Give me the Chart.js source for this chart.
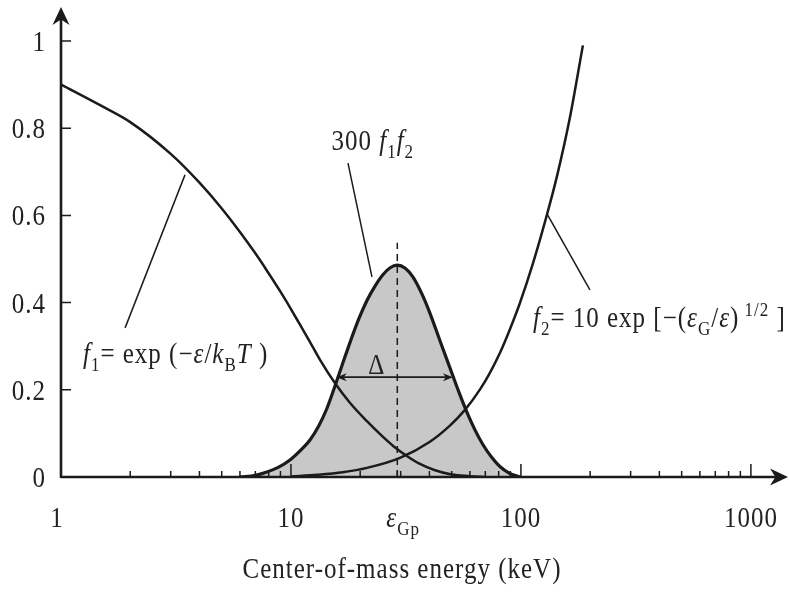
<!DOCTYPE html>
<html>
<head>
<meta charset="utf-8">
<script src="https://cdn.jsdelivr.net/npm/chart.js@4.4.0/dist/chart.umd.min.js"></script>
<style>
html, body { margin: 0; padding: 0; background: #fff; }
#wrap { width: 789px; height: 592px; }
</style>
</head>
<body>
<div id="wrap"><canvas id="chart"></canvas></div>
<script>
// ---------- values ----------
const f1Energy = [1, 1.5, 2, 3, 4, 5, 6, 7, 7.8, 9, 10, 10.9, 12, 13.4, 15.5, 18, 21.4, 25, 28, 31.9, 36, 42, 50, 60, 70];
const f1Values = [0.9, 0.851, 0.814, 0.741, 0.675, 0.616, 0.562, 0.513, 0.476, 0.425, 0.385, 0.351, 0.313, 0.268, 0.216, 0.171, 0.128, 0.093, 0.07, 0.048, 0.031, 0.016, 0.0055, 0.002, 0];

const f2Energy = [10, 13, 16.8, 21.4, 29.8, 40.2, 49.1, 57.1, 66.4, 73.3, 81.1, 89.6, 99, 112.8, 127.2, 143.5, 163.4, 186];
const f2Values = [0.001, 0.005, 0.011, 0.021, 0.044, 0.081, 0.118, 0.154, 0.201, 0.239, 0.285, 0.339, 0.399, 0.49, 0.585, 0.69, 0.825, 0.99];

const peakEnergy = [6, 7, 7.8, 8.8, 9.9, 11, 12.1, 13.2, 14.3, 15.5, 16.7, 18.1, 19.7, 21.4, 23.2, 25.1, 27, 29, 31.4, 33.9, 37.1, 40.2, 44.5, 49, 53.9, 58.4, 63.1, 68.4, 74.9, 81, 88.8, 99];
const peakValues = [0, 0.004, 0.011, 0.022, 0.039, 0.061, 0.085, 0.117, 0.156, 0.207, 0.257, 0.31, 0.362, 0.405, 0.438, 0.464, 0.48, 0.486, 0.479, 0.459, 0.42, 0.376, 0.312, 0.252, 0.193, 0.147, 0.108, 0.074, 0.044, 0.024, 0.009, 0];

const xTickValues = [1, 10, 100, 1000];
const xTickLabels = ['1', '10', '100', '1000'];
const yTickValues = [0, 0.2, 0.4, 0.6, 0.8, 1];
const yTickLabels = ['0', '0.2', '0.4', '0.6', '0.8', '1'];

const gamowPeak = 29;          // ε_Gp
const deltaRange = [15.8, 50.6];
const deltaLevel = 0.229;
const xTitle = 'Center-of-mass energy (keV)';

const ink = '#1b1b1b';
const FONT = '"Liberation Serif", "DejaVu Serif", serif';
const SIZE = 25;
const STRETCH = 1.15;   // the scan is a bit taller than wide

// ---------- text helpers ----------
function fontFor(style, size) {
    const small = style === 'sub' || style === 'sup' || style === 'isub';
    const italic = style === 'i' || style === 'isub';
    return (italic ? 'italic ' : '') + Math.round(small ? size * 0.68 : size) + 'px ' + FONT;
}

function richWidth(c, parts, size) {
    let w = 0;
    parts.forEach(([t, s]) => {
        c.font = fontFor(s, size);
        w += c.measureText(t).width;
    });
    return w;
}

function drawRich(c, x, y, parts, size, align) {
    c.save();
    c.letterSpacing = '1px';
    const w = richWidth(c, parts, size);
    let cx = align === 'center' ? -w / 2 : align === 'right' ? -w : 0;
    c.translate(x, y);
    c.scale(1, STRETCH);
    c.textBaseline = 'alphabetic';
    c.textAlign = 'left';
    c.fillStyle = '#222';
    parts.forEach(([t, s]) => {
        c.font = fontFor(s, size);
        let dy = 0;
        if (s === 'sub' || s === 'isub') dy = size * 0.28;
        if (s === 'sup') dy = -size * 0.38;
        c.fillText(t, cx, dy);
        cx += c.measureText(t).width;
    });
    c.restore();
}

// ---------- annotations (anchored in data units) ----------
const notes = [
    {
        at: [15, 0.75],
        parts: [['300 ', 'n'], ['f', 'i'], ['1', 'sub'], ['f', 'i'], ['2', 'sub']],
        line: [[17.7, 0.72], [22.5, 0.459]]
    },
    {
        at: [1.246, 0.261],
        parts: [['f', 'i'], ['1', 'sub'], ['= exp (\u2212', 'n'], ['\u03b5', 'i'], ['/', 'n'], ['k', 'i'], ['B', 'sub'], ['T', 'i'], [' )', 'n']],
        line: [[3.46, 0.693], [1.9, 0.342]]
    },
    {
        at: [112.8, 0.344],
        parts: [['f', 'i'], ['2', 'sub'], ['= 10 exp [\u2212(', 'n'], ['\u03b5', 'i'], ['G', 'sub'], ['/', 'n'], ['\u03b5', 'i'], [')', 'n'], [' 1/2', 'sup'], [' ]', 'n']],
        line: [[130.6, 0.601], [199.5, 0.429]]
    }
];

function arrowHead(c, x, y, dx, dy, len, half) {
    const nx = -dy, ny = dx;
    c.beginPath();
    c.moveTo(x, y);
    c.lineTo(x - dx * len + nx * half, y - dy * len + ny * half);
    c.lineTo(x - dx * len * 0.7, y - dy * len * 0.7);
    c.lineTo(x - dx * len - nx * half, y - dy * len - ny * half);
    c.closePath();
    c.fill();
}

const figureDecor = {
    id: 'figureDecor',
    afterDatasetsDraw(chart) {
        const c = chart.ctx;
        const { left, right, top, bottom } = chart.chartArea;
        const xs = chart.scales.x, ys = chart.scales.y;
        const X = v => xs.getPixelForValue(v);
        const Y = v => ys.getPixelForValue(v);

        c.save();
        c.strokeStyle = ink;
        c.fillStyle = ink;

        // dashed line at the Gamow peak
        c.lineWidth = 1.5;
        c.setLineDash([7, 5]);
        c.beginPath();
        c.moveTo(X(gamowPeak), Y(0));
        c.lineTo(X(gamowPeak), Y(0.537));
        c.stroke();
        c.setLineDash([]);

        // width Δ
        const dl = X(deltaRange[0]), dr = X(deltaRange[1]), dy = Y(deltaLevel);
        c.lineWidth = 1.6;
        c.beginPath();
        c.moveTo(dl + 4, dy);
        c.lineTo(dr - 4, dy);
        c.stroke();
        arrowHead(c, dl, dy, -1, 0, 10, 4);
        arrowHead(c, dr, dy, 1, 0, 10, 4);
        drawRich(c, X(23.6), Y(0.26) + 10, [['\u0394', 'n']], SIZE, 'center');

        // axes with arrows
        c.lineWidth = 2.6;
        c.beginPath();
        c.moveTo(left, bottom + 1);
        c.lineTo(left, top + 12);
        c.moveTo(left, bottom);
        c.lineTo(right - 12, bottom);
        c.stroke();
        arrowHead(c, left, top, 0, -1, 18, 8.5);
        arrowHead(c, right, bottom, 1, 0, 18, 8.5);

        // x ticks, pointing into the plot
        c.lineWidth = 1.5;
        c.beginPath();
        for (let d = 1; d <= 1000; d *= 10) {
            const limit = d === 1000 ? 1 : 9;
            for (let k = 1; k <= limit; k++) {
                const px = X(d * k);
                if (px <= left + 1) continue;
                const len = k === 1 ? 13 : 6;
                c.moveTo(px, bottom);
                c.lineTo(px, bottom - len);
            }
        }
        c.moveTo(X(gamowPeak), bottom);
        c.lineTo(X(gamowPeak), bottom - 6);
        yTickValues.forEach(v => {
            if (v === 0) return;
            c.moveTo(left, Y(v));
            c.lineTo(left + 10, Y(v));
        });
        c.stroke();

        // tick labels
        xTickValues.forEach((v, i) => {
            const shift = i === 0 ? -4 : 0;
            drawRich(c, X(v) + shift, 527, [[xTickLabels[i], 'n']], SIZE, 'center');
        });
        drawRich(c, X(gamowPeak) - 11, 527, [['\u03b5', 'i'], ['Gp', 'sub']], SIZE, 'left');
        yTickValues.forEach((v, i) => {
            drawRich(c, 46, Y(v) + 10, [[yTickLabels[i], 'n']], SIZE, 'right');
        });
        drawRich(c, 402, 578, [[xTitle, 'n']], SIZE, 'center');

        // curve labels with leader lines
        c.lineWidth = 1.5;
        notes.forEach(n => {
            c.beginPath();
            c.moveTo(X(n.line[0][0]), Y(n.line[0][1]));
            c.lineTo(X(n.line[1][0]), Y(n.line[1][1]));
            c.stroke();
            drawRich(c, X(n.at[0]), Y(n.at[1]), n.parts, SIZE, 'left');
        });

        c.restore();
    }
};

const toPoints = (xs, ys) => xs.map((x, i) => ({ x: x, y: ys[i] }));

new Chart(document.getElementById('chart'), {
    type: 'line',
    data: {
        datasets: [
            {
                label: 'f1',
                data: toPoints(f1Energy, f1Values),
                borderColor: ink,
                borderWidth: 2.5,
                pointRadius: 0,
                cubicInterpolationMode: 'monotone',
                fill: false
            },
            {
                label: 'f2',
                data: toPoints(f2Energy, f2Values),
                borderColor: ink,
                borderWidth: 2.5,
                pointRadius: 0,
                cubicInterpolationMode: 'monotone',
                fill: false
            },
            {
                label: '300 f1 f2',
                data: toPoints(peakEnergy, peakValues),
                borderColor: ink,
                borderWidth: 3.2,
                pointRadius: 0,
                cubicInterpolationMode: 'monotone',
                fill: 'origin',
                backgroundColor: '#c8c8c8'
            }
        ]
    },
    options: {
        responsive: true,
        maintainAspectRatio: false,
        animation: false,
        layout: {
            padding: { left: 61, right: 1, top: 7, bottom: 115 }
        },
        plugins: {
            legend: { display: false },
            tooltip: { enabled: false }
        },
        scales: {
            x: { type: 'logarithmic', min: 1, max: 1450, display: false },
            y: { type: 'linear', min: 0, max: 1.078, display: false }
        }
    },
    plugins: [figureDecor]
});
</script>
</body>
</html>
